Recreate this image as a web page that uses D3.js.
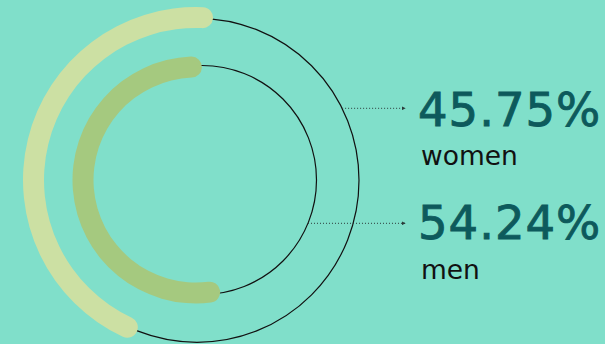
<!DOCTYPE html>
<html>
<head>
<meta charset="utf-8">
<script src="https://cdn.jsdelivr.net/npm/d3@7/dist/d3.min.js"></script>
<style>
  html, body { margin: 0; padding: 0; background: #80dfca; }
  svg { display: block; }
</style>
</head>
<body>
<svg id="chart" width="605" height="344"></svg>
<script>
// Share of respondents by gender (percent)
const categories = ["women", "men"];
const shares = [45.75, 54.24];

// Ring layout: women on the outer ring, men on the inner ring
const ringColors = ["#cce0a3", "#a5c97f"];
const ringRadius = [162.5, 113];
const ringEndDeg = [6, 3];
const guideCenter = [[197, 180.3], [202, 180]];
const guideRadius = [162, 114.5];
const labelBaseline = [125.7, 239.3];
const leaderY = [108.3, 223.3];

const cx = 196, cy = 180;
const band = 21;

const svg = d3.select("#chart");

svg.append("defs").append("marker")
  .attr("id", "tip")
  .attr("viewBox", "0 0 6 6")
  .attr("refX", 5).attr("refY", 3)
  .attr("markerWidth", 4).attr("markerHeight", 4)
  .attr("markerUnits", "userSpaceOnUse")
  .attr("orient", "auto")
  .append("path")
  .attr("d", "M0,0L6,3L0,6Z")
  .attr("fill", "#2b3b3a");

const angle = d3.scaleLinear().domain([0, 100]).range([0, 2 * Math.PI]);

// Thin guide circles
svg.selectAll("circle.guide")
  .data(categories)
  .join("circle")
  .attr("class", "guide")
  .attr("cx", (d, i) => guideCenter[i][0])
  .attr("cy", (d, i) => guideCenter[i][1])
  .attr("r", (d, i) => guideRadius[i])
  .attr("fill", "none")
  .attr("stroke", "#111")
  .attr("stroke-width", 1.2);

// Thick rounded arcs sized by share
const arc = d3.arc().cornerRadius(band / 2);
svg.append("g")
  .attr("transform", `translate(${cx},${cy})`)
  .selectAll("path")
  .data(shares)
  .join("path")
  .attr("d", (v, i) => {
    const end = ringEndDeg[i] * Math.PI / 180;
    return arc({
      innerRadius: ringRadius[i] - band / 2,
      outerRadius: ringRadius[i] + band / 2,
      startAngle: end - angle(v),
      endAngle: end
    });
  })
  .attr("fill", (v, i) => ringColors[i]);

// Dotted leader lines from each guide circle to its label
svg.selectAll("line.leader")
  .data(categories)
  .join("line")
  .attr("class", "leader")
  .attr("x1", (d, i) => {
    const dy = leaderY[i] - guideCenter[i][1];
    return guideCenter[i][0] + Math.sqrt(guideRadius[i] ** 2 - dy * dy);
  })
  .attr("x2", 405)
  .attr("y1", (d, i) => leaderY[i])
  .attr("y2", (d, i) => leaderY[i])
  .attr("stroke", "#2b3b3a")
  .attr("stroke-width", 1)
  .attr("stroke-dasharray", "1,2")
  .attr("marker-end", "url(#tip)");

// Percentage values
svg.selectAll("text.value")
  .data(shares)
  .join("text")
  .attr("class", "value")
  .attr("x", 418)
  .attr("y", (v, i) => labelBaseline[i])
  .attr("font-family", "DejaVu Sans, sans-serif")
  .attr("font-size", 46.5)
  .attr("letter-spacing", 1)
  .attr("fill", "#0d5a5c")
  .attr("stroke", "#0d5a5c")
  .attr("stroke-width", 0.9)
  .text(v => v.toFixed(2) + "%");

// Category names
svg.selectAll("text.name")
  .data(categories)
  .join("text")
  .attr("class", "name")
  .attr("x", 421)
  .attr("y", (d, i) => labelBaseline[i] + 39.2)
  .attr("font-family", "DejaVu Sans, sans-serif")
  .attr("font-size", 26.5)
  .attr("fill", "#111")
  .text(d => d);
</script>
</body>
</html>
